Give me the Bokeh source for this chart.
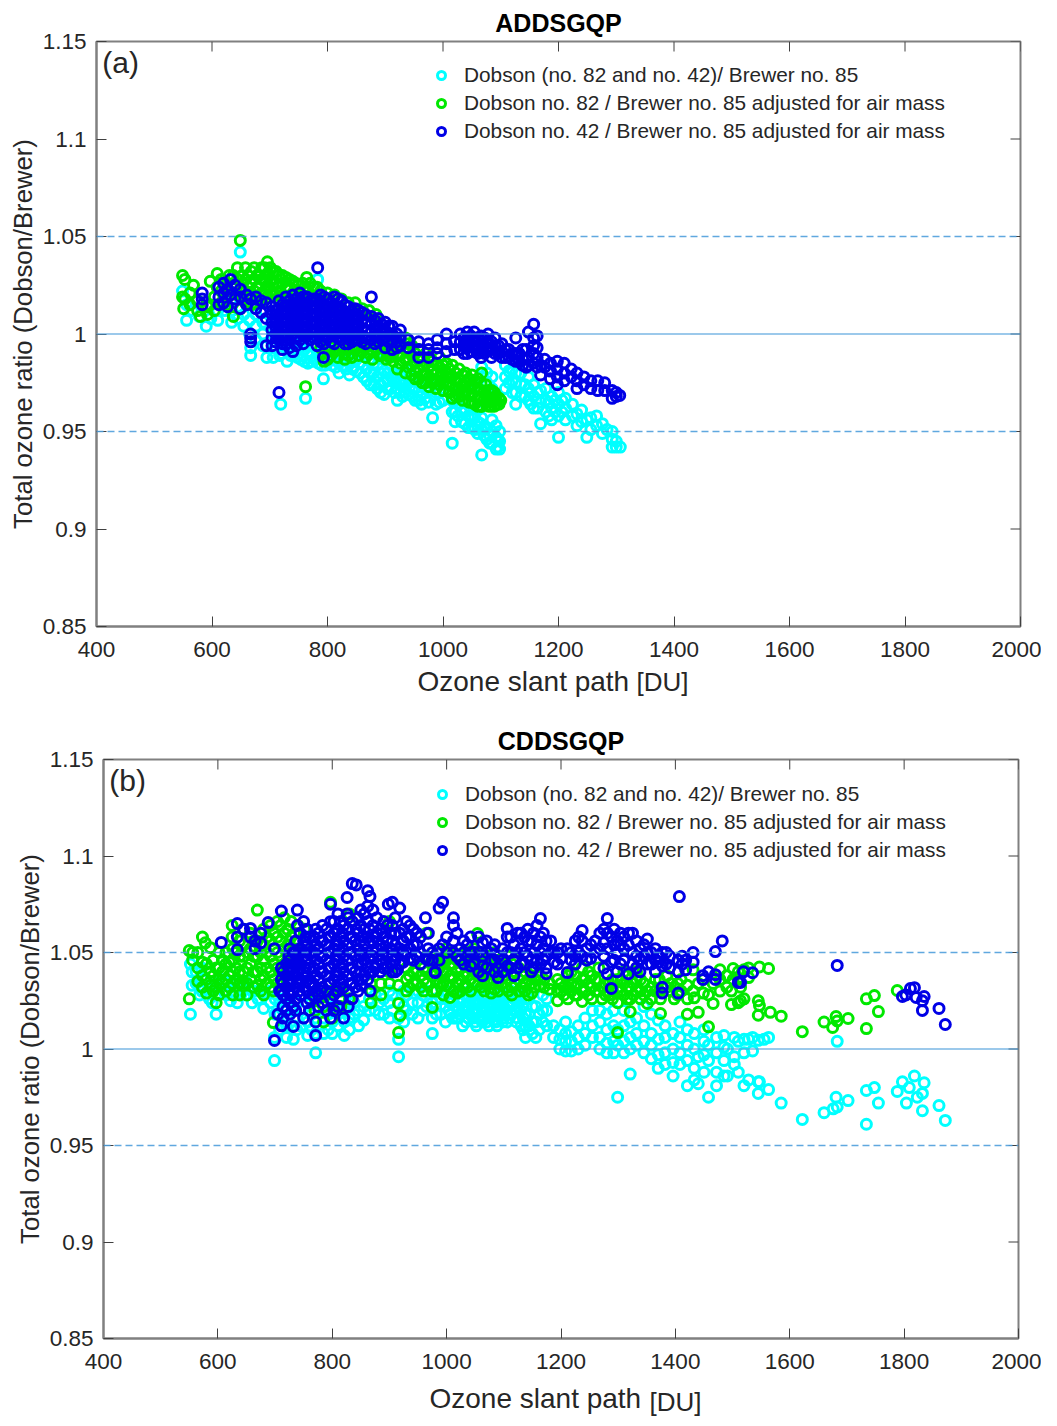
from bokeh.embed import file_html
from bokeh.resources import INLINE
from bokeh.plotting import figure
from bokeh.layouts import column
from bokeh.models import (ColumnDataSource, Span, Label, Legend, LegendItem,
                          FixedTicker, Range1d)

x_ticks = [400, 600, 800, 1000, 1200, 1400, 1600, 1800, 2000]
y_ticks = [0.85, 0.9, 0.95, 1.0, 1.05, 1.1, 1.15]
y_tick_labels = ["0.85", "0.9", "0.95", "1", "1.05", "1.1", "1.15"]
series_names = ["Dobson (no. 82 and no. 42)/ Brewer no. 85",
                "Dobson no. 82 / Brewer no. 85 adjusted for air mass",
                "Dobson no. 42 / Brewer no. 85 adjusted for air mass"]

# each row: slant path, then the ratios read at that slant path
a_cyan = [
(549,1.022),(556,1.015,1.007),(566,1.012),(578,1.009),(590,1.004),(598,1.008),(610,1.007,1.012),(622,1.012,1.018),
(634,1.006,1.012),(645,1.008,1.014),(649,1.042),(655,1.004,1.01),(665,1.0,1.007),(667,.993,.989),(676,.997,1.004,1.01),(688,.994,1.0,1.006),
(695,.988,.994),(706,.988,.994,1.0),(717,.989,.996),(719,.964),(730,.986,.992,.998),(742,.989,.995),(754,.987,.993,.999),(762,.967),
(766,.985,.991,.997),(778,.987,.993),(783,1.028),(790,.984,.99),(793,.977),(802,.986,.992),(814,.983,.989),(820,.98),(826,.984,.99),(838,.979,.985,.991),
(850,.981,.987),(862,.978,.984,.99),(874,.974,.98,.986),(886,.972,.978,.984),(898,.969,.975,.981,.987),(910,.972,.978,.984),(921,.966,.972,.978),
(930,.968,.974,.98),(941,.969,.975,.981),(952,.966,.972,.978),(963,.964,.97,.976),(975,.965,.971,.977),(982,.957),(988,.964,.97,.976),
(1000,.966,.972),(1016,.944,.96,.966),(1026,.958,.964,.97),(1038,.954,.96,.966),(1050,.952,.958,.964,.97),(1060,.949,.955,.961),(1067,.938,.951,.957,.983,.978),
(1076,.946,.952,.975,.98),(1085,.944,.95,.956,.972,.978),(1092,.941,.947,.953,.969),(1098,.941,.945,.95),(1108,.972,.978,.984),(1120,.97,.976,.982),(1126,.964,.975),
(1135,.968,.974,.98),(1148,.966,.972,.978),(1157,.962,.968,.974),(1169,.954,.965,.971),(1178,.96,.966,.972),(1188,.956,.962,.968),(1200,.947,.958,.964,.97),
(1212,.956,.962,.967),(1224,.958,.964),(1232,.953,.959),(1240,.955,.961),(1249,.947,.956),(1256,.951,.957),(1266,.953,.958),(1276,.949,.954),
(1284,.951),(1293,.942,.946,.95),(1300,.942,.945),(1307,.942)]
a_cyan_dense = [
(720,.99,.995),(736,.989,.995),(748,.988,.993),(760,.986,.992),(772,.986,.99),(784,.985,.99),(796,.984,.99),(808,.984,.988),(820,.985,.989),(832,.982,.987),(844,.982,.986),
(856,.98,.985),(868,.976,.982),(880,.974,.98,.985),(892,.97,.974,.98),(904,.972,.976,.98),(916,.97,.975,.98),(926,.97,.975,.98),(936,.97,.976,.98),(947,.968,.972,.977),
(958,.966,.971,.976),(969,.967,.972),(994,.965,.97),(1021,.955,.96,.966),(1032,.955,.96),(1044,.952,.958),(1055,.951,.957),(1065,.954),(1071,.948,.952),(1081,.948,.944),
(1095,.946,.942),(1114,.975,.981),(1126,.97,.98),(1142,.968,.974),(1152,.97,.964),(1164,.962,.97),(1183,.958,.965),(1194,.96,.966),(1206,.96,.966)]

a_green = [
(549,1.03,1.019),(551,1.013),(553,1.028,1.018),(562,1.015,1.021),(568,1.025),(575,1.012,1.017),(580,1.009),(592,1.01,1.014),(597,1.027,1.015),(604,1.012,1.019),
(609,1.031,1.024),(616,1.016,1.022,1.028),(626,1.015,1.02,1.026),(637,1.009,1.016,1.024,1.03),(644,1.034,1.028,1.02),(649,1.048,1.013),(658,1.034,1.028,1.022,1.016),
(668,1.032,1.026,1.02,1.015),(678,1.03,1.024,1.018),(686,1.034,1.028,1.021),(696,1.037,1.031,1.025,1.019),(706,1.032,1.026,1.02),(716,1.03,1.024,1.018),
(728,1.029,1.023,1.017),(740,1.027,1.021),(750,1.025,1.019),(762,.973),(764,1.029,1.023,1.017),(776,1.024,1.019),(788,1.022,1.016,.993),(800,1.021,1.016,.991,.987),
(812,1.02,1.014,.991),(824,1.018,1.013,.993),(836,1.016,.989,.993),(848,1.016,.992),(860,1.013,.991,.995),(872,1.012,.99,.994),(884,1.01,.992,.996),(896,.989,.993,.998),
(908,1.0,.996,.992,.988),(921,.982,.99,.995),(935,.98,.987,.993,.998),(946,.994,.989,.984,.979),(958,.992,.987,.982,.977),(970,.99,.985,.98,.975),(982,.975,.981,.986),
(994,.988,.983,.978,.974),(1006,.978,.985,.98,.975),(1016,.967,.984,.978,.973),(1028,.982,.977,.972,.968),(1039,.9705,.98,.975),(1050,.979,.974,.969,.965),
(1060,.977,.972,.967,.963),(1067,.98,.963),(1074,.974,.969,.965),(1084,.971,.967,.963),(1092,.968,.964),(1100,.966)]
a_green_dense = [
(630,1.022,1.03),(652,1.03,1.024,1.018),(663,1.03,1.024,1.018),(673,1.034,1.028,1.022,1.016),(682,1.03,1.024,1.018),(691,1.034,1.028,1.022),(701,1.034,1.028,1.022,1.016),
(711,1.032,1.026,1.02),(722,1.03,1.026,1.02),(734,1.028,1.024,1.018),(745,1.026,1.022),(757,1.026,1.02),(770,1.026,1.02),(782,1.024,1.018),(794,.99,.986),(806,.989,.993),
(818,.988,.992),(830,.99,.987),(842,.988,.993),(854,.989,.993),(866,.988,.994),(878,.987,.991,.995),(890,.989,.994),(902,.987,.991,.996),(914,.986,.99,.994,.998),
(926,.985,.989,.993,.997),(940,.983,.987,.991,.995),(952,.977,.981,.985,.99),(964,.975,.979,.984,.988),(976,.973,.978,.983,.987),(988,.972,.976,.98,.985),(1000,.971,.975,.98,.984),
(1011,.97,.974,.978,.982),(1022,.968,.972,.976,.98),(1034,.966,.97,.974,.979),(1045,.965,.969,.973,.977),(1055,.964,.968,.972,.976),(1066,.963,.967,.971,.975),(1079,.963,.967,.971),
(1089,.963,.966,.97),(1097,.964,.967)]

a_blue = [
(583,1.021,1.018,1.015),(612,1.024,1.019,1.015),(620,1.026,1.021,1.016),(627,1.023,1.014),(632,1.028,1.02),(640,1.025,1.018),(649,1.023,1.019,1.013),
(660,1.02,1.015),(667,1.018,1.0,.998,.996),(676,1.019,1.013),(685,1.017,1.011),(694,1.016,1.008,.994),(704,1.014,1.01,1.006,1.002,.998,.994),
(716,1.017,1.013,1.009,1.005,1.001,.997,.97),(728,1.019,1.015,1.011,1.007,1.003,.999,.995),(740,1.02,1.016,1.012,1.008,1.004,1.0,.991),(752,1.021,1.017,1.013,1.009,1.005,1.001,.997),
(764,1.019,1.015,1.011,1.007,1.003,.999),(776,1.018,1.014,1.01,1.006,1.002,.998),(783,1.034),(788,1.02,1.016,1.012,1.008,1.004,1.0,.996),(793,.988),(800,1.018,1.014,1.01,1.006,1.002,.998),
(812,1.019,1.015,1.011,1.007,1.003,.999,.995),(824,1.017,1.013,1.009,1.005,1.001,.997),(836,1.014,1.01,1.006,1.002,.998,.995),(848,1.013,1.009,1.005,1.001,.997),
(860,1.011,1.007,1.003,.999,.996),(876,1.019,1.009,1.005,1.001,.997),(888,1.008,1.004,1.0,.996),(900,1.006,1.002,.998,.993),(912,1.004,1.0,.996,.992),(926,1.002,.998,.994),
(940,.997,.993),(958,.996,.992,.988),(975,.995,.992,.988),(990,.997,.993,.99),(1006,1.0,.995,.991),(1020,.996,.992),(1030,1.0,.996,.992),(1042,1.001,.997,.993,.99),
(1054,1.001,.997,.993),(1066,.999,.995,.991,.988),(1078,1.0,.996,.992),(1090,.998,.994,.99),(1102,.995,.991,.988),(1114,.992,.988),(1126,.998,.99,.986),(1138,.992,.987,.984),
(1148,1.001,.988,.984),(1157,1.005,.998,.994,.99,.985),(1163,.999,.993,.988,.983),(1169,.979,.984),(1176,.987,.983),(1186,.985,.981,.977),(1198,.986,.982,.978,.974),
(1210,.985,.98,.976),(1222,.982,.978),(1232,.98,.976,.972),(1244,.978,.974),(1256,.976,.972),(1268,.976,.971),(1280,.975,.971),(1293,.971,.967),(1300,.97,.968),(1306,.9685)]
a_blue_dense = [
(710,1.012,1.008,1.004,1.0,.996),(722,1.015,1.011,1.007,1.003,.999,.995,.992),(734,1.017,1.013,1.009,1.005,1.001,.997,.993),(746,1.018,1.014,1.01,1.006,1.002,.998,.994),
(758,1.019,1.015,1.011,1.007,1.003,.999,.995),(770,1.017,1.013,1.009,1.005,1.001,.997),(782,1.018,1.014,1.01,1.006,1.002,.998,.994),(794,1.019,1.015,1.011,1.007,1.003,.999,.995),
(806,1.016,1.012,1.008,1.004,1.0,.996),(818,1.018,1.014,1.01,1.006,1.002,.998),(830,1.015,1.011,1.007,1.003,.999,.995),(842,1.012,1.008,1.004,1.0,.996),(854,1.012,1.008,1.004,1.0,.997),
(866,1.01,1.006,1.002,.998,.995),(882,1.007,1.003,.999,.995),(894,1.005,1.001,.997),(906,1.004,1.0,.996),(920,1.0,.996,.993),(1036,.998,.994,.99),(1048,.999,.995,.991),
(1060,.998,.994,.99),(1072,.998,.994,.99),(1084,.996,.992,.988),(1096,.994,.99),(1108,.992,.988),(1120,.99,.987),(1132,.99,.986),(1144,.992,.987,.983)]

b_cyan = [
(552,1.044,1.018),(562,1.04,1.034),(572,1.036,1.03,1.042),(585,1.032,1.026),(597,1.034,1.028,1.018),(610,1.036,1.03),(622,1.038,1.032,1.025),(634,1.024,1.032),
(648,1.035,1.028),(660,1.03,1.024),(680,1.021,1.029),(692,1.03,1.024),(699,.994,1.006),(708,1.01,1.018,1.024),(720,1.006,1.012,1.02),(732,1.005,1.012,1.02),(745,1.012,1.02),
(757,1.007,1.014),(771,.998,1.008,1.016),(785,1.008,1.016),(800,1.008,1.014,1.022),(821,1.007,1.014,1.02),(838,1.018,1.024),(855,1.015,1.022),(875,1.02,1.028),(890,1.018,1.026),
(905,1.02,1.028),(916,.996,1.005,1.016,1.024),(930,1.02,1.028),(950,1.016,1.024,1.03),(965,1.022,1.03),(975,1.008,1.016,1.024),(990,1.018,1.026,1.032),(1004,1.02,1.026),
(1016,1.016,1.022,1.028),(1028,1.012,1.02,1.026),(1040,1.018,1.024,1.03),(1052,1.012,1.02,1.026),(1064,1.016,1.022,1.028),(1076,1.018,1.024,1.03),(1088,1.012,1.02,1.026),
(1100,1.016,1.022,1.028),(1112,1.018,1.024,1.03),(1124,1.016,1.022,1.028),(1138,1.006,1.012,1.018,1.026),(1150,1.008,1.014,1.022),(1162,1.01,1.018),(1175,1.012,1.02,1.026),
(1187,1.006,1.012),(1198,1.0,1.005,1.01),(1208,.999,1.004,1.008,1.014),(1218,.999,1.004,1.009),(1230,1.0,1.006,1.012),(1242,1.002,1.008,1.016),(1255,1.006,1.012,1.02),
(1268,1.0,1.006,1.014,1.02),(1280,.998,1.003,1.01,1.018),(1292,.998,1.004,1.012,1.02),(1299,.975,1.002,1.01),(1310,.998,1.004,1.012,1.02),(1321,.987,1.0,1.006,1.014),
(1332,1.002,1.008,1.016),(1345,.998,1.004,1.012,1.022),(1358,.995,1.002,1.008,1.018),(1370,.99,.997,1.005,1.015),(1382,.992,.998,1.006,1.012),(1396,.986,.993,1.0,1.008),
(1408,.992,.998,1.006,1.014),(1421,.981,.994,1.002,1.01),(1433,.984,.99,1.0,1.008),(1440,.982,.996),(1450,.988,.997,1.004,1.01),(1458,.975,.994,1.002),(1472,.981,.988,.998,1.006),
(1485,.986,.994,1.001,1.007),(1491,.986,1.0),(1503,.996,1.006,.992),(1510,.988,1.004),(1520,.981,.998,1.005),(1528,.984,1.005),(1535,.999,1.006),(1545,.977,.983,1.0045),
(1547,.983),(1555,1.005),(1563,.979,1.006),(1585,.972),(1622,.9635),(1660,.967),(1676,.969),(1681,.975),(1683,1.004,.97),(1702,.9733),(1734,.9785,.961),(1748,.98),(1755,.972),
(1788,.978),(1797,.983),(1804,.972),(1809,.98),(1818,.986),(1823,.975),(1832,.977,.968),(1835,.9825),(1861,.9707),(1872,.963)]
b_cyan_dense = [
(555,1.04,1.033),(568,1.032,1.028),(590,1.03,1.024),(615,1.028,1.034),(640,1.028,1.034),(670,1.026,1.03),(700,1.018,1.026),(714,1.012,1.02,1.026),(738,1.01,1.016,1.024),
(764,1.01,1.018,1.024),(793,1.01,1.018),(810,1.012,1.02),(830,1.01,1.016,1.024),(846,1.012,1.02),(865,1.02,1.026),(882,1.018,1.024),(900,1.016,1.024,1.03),(925,1.014,1.022,1.03),
(940,1.018,1.024),(958,1.02,1.028),(982,1.018,1.026),(998,1.014,1.022,1.03),(1010,1.016,1.024,1.03),(1022,1.018,1.024,1.03),(1034,1.014,1.02,1.028),(1046,1.016,1.024,1.03),
(1058,1.016,1.024,1.03),(1070,1.014,1.02,1.028),(1082,1.015,1.022,1.03),(1094,1.018,1.024,1.03),(1106,1.014,1.02,1.028),(1118,1.02,1.026,1.032),(1130,1.012,1.02,1.028),
(1144,1.012,1.018,1.026),(1156,1.006,1.014,1.022),(1168,1.014,1.02,1.028),
(1006,1.018,1.024),(1020,1.02,1.026,1.016),(1038,1.016,1.022,1.028),(1050,1.018,1.014,1.024),(1062,1.014,1.02,1.026),(1074,1.016,1.022,1.012),(1086,1.018,1.024,1.014),
(1098,1.02,1.026,1.014),(1110,1.016,1.022,1.028),(1122,1.02,1.026,1.014),(1134,1.016,1.022,1.01)]

b_green = [
(550,1.051,1.026),(556,1.046,1.05),(565,1.05,1.042,1.035),(573,1.058,1.045,1.038,1.032),(578,1.055),(587,1.0525,1.04,1.033),(597,1.024,1.032,1.042),(608,1.046,1.04,1.034),
(620,1.045,1.038,1.032),(625,1.064,1.058),(632,1.05,1.042,1.036),(645,1.062,1.054,1.048,1.04,1.034),(657,1.06,1.052,1.044,1.036),(669,1.072,1.056,1.048,1.04,1.033),
(680,1.062,1.054,1.046,1.038,1.028),(692,1.064,1.056,1.048,1.04,1.032),(697,1.0137),(704,1.066,1.058,1.05,1.042,1.034),(716,1.068,1.06,1.052,1.044),(728,1.066,1.058,1.05),
(740,1.064,1.056),(752,1.062,1.054),(770,1.02,1.026),(785,1.022,1.028,1.014),(800,1.03,1.024,1.016),(797,1.076),(815,1.03,1.022),(830,1.07,1.026),(845,1.068),
(868,1.03,1.024,1.034),(885,1.034,1.028),(900,1.066,1.04,1.034),(916,1.0085,1.0236,1.033),(919,1.0174),(930,1.042,1.036,1.03),(942,1.046,1.04,1.034),(955,1.044,1.038,1.032),
(965,1.06,1.048,1.04,1.034),(975,1.0215,1.046,1.038,1.03),(988,1.05,1.042,1.034),(1000,1.052,1.046,1.04,1.033),(1006,1.0267),(1012,1.05,1.044,1.037,1.03),(1024,1.048,1.042,1.036,1.03),
(1036,1.05,1.044,1.038,1.032),(1048,1.052,1.046,1.04,1.034),(1054,1.0598),(1060,1.05,1.044,1.038,1.032),(1072,1.048,1.042,1.036),(1084,1.05,1.044,1.038,1.031),
(1096,1.046,1.04,1.034),(1108,1.048,1.042,1.036,1.03),(1120,1.046,1.04,1.034),(1132,1.044,1.038,1.032),(1143,1.028,1.036),(1155,1.042,1.036,1.032),(1170,1.036,1.032),
(1180,1.034,1.031),(1194,1.025,1.03,1.036),(1205,1.028,1.032),(1218,1.03,1.034,1.04),(1229,1.028,1.034),(1237,1.0246,1.03,1.036,1.042),(1248,1.028,1.034,1.04),(1260,1.03,1.036),
(1272,1.026,1.032),(1284,1.028,1.034),(1299,1.0085,1.024,1.03,1.036),(1310,1.028,1.034,1.04),(1321,1.0194,1.026,1.032),(1332,1.03,1.036,1.04),(1345,1.028,1.034),
(1351,1.0236,1.03),(1365,1.03,1.036),(1374,1.0184,1.026),(1385,1.032,1.038),(1398,1.026,1.032),(1410,1.03,1.036),(1421,1.018,1.026,1.033),(1431,1.041,1.03),(1433,1.0265),
(1440,1.019,1.034),(1449,1.029,1.036),(1458,1.0115,1.028),(1466,1.0236,1.034),(1478,1.03,1.036,1.041),(1490,1.032,1.038),(1498,1.023,1.03),(1501,1.0417,1.036),(1510,1.024,1.036,1.04),
(1514,1.025,1.032),(1520,1.026,1.041),(1528,1.042,1.037),(1545,1.025,1.0175),(1547,1.0425,1.0225),(1563,1.0417),(1566,1.019),(1585,1.017),(1622,1.009),(1660,1.014),
(1675,1.0112),(1681,1.0168),(1683,1.0145),(1702,1.0158),(1734,1.0106,1.026),(1748,1.0277),(1755,1.0194),(1788,1.0303)]
b_green_dense = [
(580,1.044,1.036,1.029),(592,1.046,1.038,1.03),(602,1.05,1.042,1.036,1.028),(614,1.05,1.044,1.036,1.03),(626,1.052,1.046,1.04,1.034,1.028),(638,1.056,1.048,1.04,1.034,1.028),
(651,1.05,1.042,1.034,1.028),(663,1.056,1.048,1.04,1.032),(675,1.05,1.042,1.036,1.03),(686,1.058,1.05,1.042,1.034),(698,1.06,1.052,1.044,1.036,1.03),(710,1.064,1.056,1.048,1.04,1.034),
(722,1.062,1.054,1.046),(734,1.06,1.052,1.046),(935,1.038,1.032),(948,1.04,1.034),(960,1.042,1.036,1.03),(982,1.044,1.036,1.03),(994,1.046,1.04,1.034,1.028),(1006,1.05,1.044,1.038,1.032),
(1018,1.046,1.04,1.034,1.029),(1030,1.05,1.044,1.038,1.032),(1042,1.048,1.042,1.036,1.03),(1054,1.05,1.044,1.038,1.033),(1066,1.046,1.04,1.034,1.03),(1078,1.046,1.04,1.034,1.029),
(1090,1.046,1.04,1.034,1.03),(1102,1.044,1.038,1.032),(1114,1.044,1.038,1.032,1.028),(1126,1.042,1.036,1.03),(1137,1.04,1.034,1.03),(1149,1.038,1.034,1.029),(1162,1.038,1.033),
(1200,1.03,1.034),(1212,1.026,1.032,1.038),(1224,1.028,1.032,1.038),(1242,1.03,1.036),(1254,1.026,1.032,1.038),(1266,1.03,1.036,1.042),(1278,1.028,1.034),(1290,1.026,1.03,1.036),
(1305,1.03,1.036),(1316,1.026,1.032,1.038),(1327,1.028,1.034,1.04),(1339,1.026,1.03,1.036),(1358,1.026,1.032),(1372,1.03,1.036),(1392,1.034,1.03),(1404,1.028,1.034)]

b_blue = [
(606,1.0552),(634,1.065,1.058,1.0515),(645,1.062),(657,1.0625,1.058),(665,1.056,1.052),(675,1.06,1.055),(688,1.0655),(699,1.052,1.0044),(705,1.018),
(711,1.0715,1.042,1.036,1.03,1.012),(720,1.044,1.038,1.032,1.026,1.02),(732,1.0117,1.05,1.044,1.038,1.03,1.022),(739,1.072,1.064,1.046,1.04,1.034),(750,1.066,1.056,1.048,1.04,1.032,1.016),
(760,1.058,1.05,1.042,1.034,1.026,1.02),(771,1.007,1.062,1.054,1.046,1.038,1.03,1.014),(783,1.064,1.056,1.048,1.04,1.032,1.024),(797,1.075,1.066,1.058,1.05,1.042,1.034,1.026,1.016),
(810,1.07,1.062,1.054,1.046,1.038,1.03,1.022),(820,1.064,1.056,1.048,1.04,1.032,1.016),(826,1.0785,1.07),(835,1.0857,1.066,1.058,1.05,1.042,1.034,1.026),(842,1.085,1.062),
(850,1.072,1.064,1.056,1.048,1.04,1.033),(862,1.082,1.074,1.066,1.058,1.05,1.042,1.036),(866,1.079,1.03),(878,1.068,1.06,1.052,1.044),(890,1.066,1.058,1.05,1.042),
(898,1.075,1.05),(905,1.076,1.064,1.056,1.048,1.04),(914,1.041,1.05),(918,1.073,1.06,1.052,1.044),(930,1.066,1.058,1.05),(942,1.062,1.054,1.046),(954,1.058,1.05,1.044),
(963,1.068,1.047),(975,1.05,1.046),(980,1.0396,1.04),(987,1.073,1.052,1.046),(993,1.076,1.054),(1012,1.068,1.064,1.056,1.05),(1024,1.052,1.046),(1036,1.054,1.048),(1048,1.05,1.044),
(1063,1.038,1.055,1.048,1.043),(1078,1.052,1.046),(1090,1.048,1.042,1.037),(1106,1.0625,1.058,1.05,1.043),(1118,1.054,1.046,1.038),(1130,1.06,1.052,1.044),(1142,1.062,1.056,1.048),
(1152,1.06,1.05,1.042),(1164,1.0676,1.058,1.05,1.044),(1174,1.039,1.056,1.048,1.042),(1188,1.05,1.045),(1200,1.052,1.047),(1211,1.0396,1.052),(1225,1.056,1.048,1.044),
(1237,1.0614,1.056,1.048),(1252,1.054,1.047),(1268,1.06,1.052),(1281,1.0676,1.06,1.052,1.039),(1288,1.0314,1.045,1.058),(1298,1.056,1.05,1.04),(1310,1.058,1.052,1.046),
(1318,1.06,1.054,1.039),(1325,1.06,1.05,1.044),(1338,1.052,1.046,1.04),(1351,1.057,1.05,1.044),(1365,1.052,1.046,1.04),(1377,1.05,1.043,1.032,1.029),(1390,1.048,1.042),
(1405,1.046,1.04,1.029),(1407,1.079),(1418,1.046,1.041),(1431,1.05,1.045),(1448,1.038,1.036),(1458,1.04),(1470,1.0505,1.0385,1.036),(1482,1.056),(1510,1.0345),(1514,1.0345),
(1519,1.04),(1535,1.0395),(1683,1.0433),(1797,1.0272),(1803,1.028),(1811,1.0313),(1818,1.0318),(1821,1.0267),(1832,1.02,1.025),(1835,1.0272),(1861,1.021),(1872,1.0127)]
b_blue_dense = [
(714,1.04,1.034,1.028,1.022,1.016),(726,1.052,1.046,1.04,1.034,1.028,1.024,1.018),(736,1.056,1.05,1.044,1.038,1.032,1.026,1.02),(744,1.06,1.052,1.044,1.036,1.028),
(756,1.062,1.054,1.046,1.038,1.03,1.024),(766,1.056,1.048,1.04,1.034,1.028),(776,1.06,1.052,1.044,1.036,1.028,1.022),(790,1.062,1.054,1.046,1.038,1.03,1.02),
(803,1.066,1.06,1.052,1.044,1.036,1.028,1.02),(815,1.066,1.058,1.05,1.042,1.034,1.026),(828,1.068,1.062,1.054,1.046,1.038,1.03,1.022),(845,1.068,1.06,1.052,1.044,1.036,1.03),
(856,1.07,1.062,1.054,1.046,1.038),(871,1.072,1.064,1.056,1.048,1.04),(884,1.062,1.054,1.046,1.04),(896,1.064,1.056,1.048,1.042),(910,1.068,1.06,1.054,1.046,1.04),
(924,1.062,1.056,1.05,1.045),(936,1.064,1.058,1.052,1.047),(948,1.06,1.054,1.048),(968,1.06,1.052,1.046),(1000,1.058,1.05),(1018,1.06,1.048),(1030,1.056,1.05,1.044),
(1042,1.058,1.05,1.043),(1056,1.058,1.05,1.04),(1070,1.056,1.05,1.042),(1084,1.054,1.046,1.04),(1098,1.052,1.046,1.04),(1112,1.058,1.05,1.042),(1124,1.06,1.05,1.042),
(1136,1.058,1.05,1.044),(1148,1.056,1.046,1.04),(1158,1.064,1.054,1.046),(1169,1.06,1.052,1.046),(1182,1.056,1.05),(1194,1.05,1.044),(1218,1.05,1.046),(1231,1.058,1.05),
(1245,1.052,1.046),(1260,1.056,1.05),(1275,1.062,1.055,1.048,1.042),(1293,1.062,1.054,1.046),(1304,1.06,1.054,1.044),(1332,1.056,1.048,1.042),(1345,1.054,1.048),(1358,1.05,1.044),
(1371,1.048,1.045),(1384,1.05,1.044),(1412,1.044,1.048),
(708,1.03),(724,1.03,1.036,1.042,1.048),(742,1.03,1.036,1.042,1.05),(754,1.035,1.042,1.05,1.058),(768,1.032,1.042,1.05,1.058),(780,1.03,1.04,1.048,1.056),(794,1.034,1.042,1.05,1.058),
(807,1.03,1.04,1.048,1.056),(818,1.036,1.044,1.052,1.06),(832,1.034,1.042,1.05,1.058),(840,1.032,1.04,1.048,1.056),(852,1.036,1.044,1.05,1.058),(865,1.04,1.048,1.056,1.062),
(875,1.042,1.05,1.058),(888,1.044,1.052,1.06),(902,1.044,1.052,1.06)]


def expand(rows):
    xs, ys = [], []
    for row in rows:
        for y in row[1:]:
            xs.append(row[0])
            ys.append(y)
    return ColumnDataSource(dict(x=xs, y=ys))


COLORS = ["#00ffff", "#00e800", "#0000e6"]
TEXT = "#262626"
AXIS = "#808080"
TICK = "#404040"
REF = "#4f9fdc"


def panel(rows, title, tag, shift, frame_w, frame_h, border_top, fig_w, fig_h,
          legend_loc, xlabel_left, unit_left, xlabel_y, unit_y):
    border_left = 96
    p = figure(width=fig_w, height=fig_h, output_backend="svg", toolbar_location=None,
               x_range=Range1d(400, 2000), y_range=Range1d(0.85, 1.15),
               frame_width=frame_w, frame_height=frame_h,
               min_border_left=border_left, min_border_top=border_top,
               min_border_right=fig_w - border_left - frame_w,
               min_border_bottom=fig_h - border_top - frame_h,
               margin=(0, 0, 0, shift),
               title=title)
    p.title.align = "center"
    p.title.text_font = "Liberation Sans"
    p.title.text_font_size = "25px"
    p.title.text_font_style = "bold"
    p.title.text_color = "#000000"
    p.title.standoff = 9
    p.grid.visible = False
    p.outline_line_color = AXIS
    p.outline_line_width = 2

    rends = []
    for r, c in zip(rows, COLORS):
        rends.append(p.scatter("x", "y", source=expand(r), marker="circle", size=10,
                               fill_color=None, line_color=c, line_width=3))

    for loc, dash, alpha in [(1.0, "solid", 0.75), (0.95, "7 4", 0.9), (1.05, "7 4", 0.9)]:
        p.add_layout(Span(location=loc, dimension="width", line_color=REF,
                          line_width=1.5, line_dash=dash, line_alpha=alpha))

    # inward ticks on the top and right edges of the box
    tick_dx = 10 * 1600 / frame_w
    tick_dy = 10 * 0.3 / frame_h
    p.segment(x_ticks, [1.15] * len(x_ticks), x_ticks, [1.15 - tick_dy] * len(x_ticks),
              line_color=TICK, line_width=1)
    p.segment([2000] * len(y_ticks), y_ticks, [2000 - tick_dx] * len(y_ticks), y_ticks,
              line_color=TICK, line_width=1)

    p.xaxis.ticker = FixedTicker(ticks=x_ticks)
    p.yaxis.ticker = FixedTicker(ticks=y_ticks)
    p.yaxis.major_label_overrides = dict(zip(y_ticks, y_tick_labels))
    for ax in (p.xaxis[0], p.yaxis[0]):
        ax.major_tick_in = 10
        ax.major_tick_out = 0
        ax.minor_tick_line_color = None
        ax.major_tick_line_color = TICK
        ax.axis_line_color = AXIS
        ax.axis_line_width = 2
        ax.major_label_text_font = "Liberation Sans"
        ax.major_label_text_font_size = "22.5px"
        ax.major_label_text_color = TEXT
    p.xaxis.major_label_standoff = 15
    p.yaxis.major_label_standoff = 10
    p.yaxis.axis_label = "Total ozone ratio (Dobson/Brewer)"
    p.yaxis.axis_label_text_font = "Liberation Sans"
    p.yaxis.axis_label_text_font_size = "25.7px"
    p.yaxis.axis_label_text_font_style = "normal"
    p.yaxis.axis_label_text_color = TEXT
    p.yaxis.axis_label_standoff = 3

    p.add_layout(Label(x=xlabel_left, y=xlabel_y, x_units="screen", y_units="screen", text="Ozone slant path",
                       text_align="left", text_baseline="alphabetic", text_font="Liberation Sans",
                       text_font_size="28px", text_color=TEXT), "below")
    p.add_layout(Label(x=unit_left, y=unit_y, x_units="screen", y_units="screen", text="[DU]",
                       text_align="left", text_baseline="alphabetic", text_font="Liberation Sans",
                       text_font_size="26px", text_color=TEXT), "below")
    p.add_layout(Label(x=410, y=1.139, text=tag, text_align="left",
                       text_baseline="alphabetic", text_font="Liberation Sans",
                       text_font_size="30px", text_color=TEXT))

    legend = Legend(items=[LegendItem(label=n, renderers=[r]) for n, r in zip(series_names, rends)],
                    location=legend_loc, orientation="vertical", border_line_color=None,
                    background_fill_alpha=0, margin=0, padding=0, spacing=0,
                    glyph_width=20, glyph_height=28, label_height=28, label_standoff=13,
                    label_text_font="Liberation Sans", label_text_font_size="20.8px",
                    label_text_color=TEXT)
    p.add_layout(legend, "center")
    return p


p1 = panel([a_cyan + a_cyan_dense, a_green + a_green_dense, a_blue + a_blue_dense],
           "ADDSGQP", "(a)", 0, 924, 585, 41, 1041, 708, (335, 481), 321, 540, 9, 39)
p2 = panel([b_cyan + b_cyan_dense, b_green + b_green_dense, b_blue + b_blue_dense],
           "CDDSGQP", "(b)", 7, 915, 579, 39, 1034, 698, (329, 474), 326, 546, 4, 31)

open("out.html", "w").write(file_html(column(p1, p2, spacing=0), INLINE))
